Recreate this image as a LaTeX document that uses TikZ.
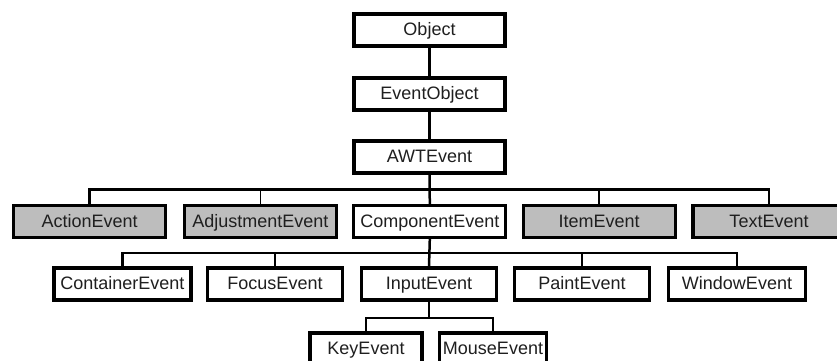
\documentclass[tikz,border=0pt]{standalone}
\usepackage{fontspec}
\setmainfont{Liberation Sans}
\begin{document}
\begin{tikzpicture}[x=1pt,y=-1pt,
  cls/.style={draw=black, line width=3.2pt, fill=white, inner sep=0pt,
    minimum height=32pt, text height=13pt, text depth=2pt, text=black!88,
    font=\fontsize{18}{20}\selectfont},
  shaded/.style={cls, fill=black!26},
  link/.style={draw=black, line width=2.5pt},
  thinlink/.style={draw=black, line width=1.6pt}]
\useasboundingbox (0,0) rectangle (837,361);

% java.lang.Object down to AWTEvent
\node[cls, minimum width=151pt] (obj)  at (429.5,30)  {Object};
\node[cls, minimum width=151pt] (eobj) at (429.5,94)  {EventObject};
\node[cls, minimum width=151pt] (awt)  at (429.5,157) {AWTEvent};

% direct subclasses of AWTEvent
\node[shaded, minimum width=152pt] (action) at (89.7,221.5)  {ActionEvent};
\node[shaded, minimum width=152pt] (adjust) at (260.3,221.5) {AdjustmentEvent};
\node[cls,    minimum width=152pt] (comp)   at (429.8,221.5) {ComponentEvent};
\node[shaded, minimum width=152pt] (item)   at (599.2,221.5) {ItemEvent};
\node[shaded, minimum width=152pt] (text)   at (769,221.5)   {TextEvent};

% subclasses of ComponentEvent
\node[cls, minimum width=137pt] (cont)   at (122.4,284) {ContainerEvent};
\node[cls, minimum width=135pt] (focus)  at (275,284)   {FocusEvent};
\node[cls, minimum width=135pt] (input)  at (429,284)   {InputEvent};
\node[cls, minimum width=135pt] (paint)  at (582,284)   {PaintEvent};
\node[cls, minimum width=137pt] (window) at (737,284)   {WindowEvent};

% subclasses of InputEvent
\node[cls, minimum width=112pt] (key)   at (366,349)   {KeyEvent};
\node[cls, minimum width=107pt] (mouse) at (493,349)   {MouseEvent};

% heights of the horizontal buses
\coordinate (b1) at (0,189.5);
\coordinate (b2) at (0,253);
\coordinate (b3) at (0,318);

% inheritance connectors
\draw[link] (obj.south) -- (eobj.north);
\draw[link] (eobj.south) -- (awt.north);

\draw[link] (awt.south) -- (comp.north);
\draw[link] (action.north) |- (awt.south |- b1) -| (text.north);
\draw[thinlink] (adjust.north) -- (adjust.north |- b1);
\draw[link] (item.north) -- (item.north |- b1);

\draw[link] (comp.south) -- (input.north);
\draw[link] (cont.north) |- (comp.south |- b2) -| (window.north);
\draw[thinlink] (focus.north) -- (focus.north |- b2);
\draw[link] (paint.north) -- (paint.north |- b2);

\draw[link] (input.south) -- (input.south |- b3);
\draw[link] (key.north) |- (input.south |- b3) -| (mouse.north);
\end{tikzpicture}
\end{document}
